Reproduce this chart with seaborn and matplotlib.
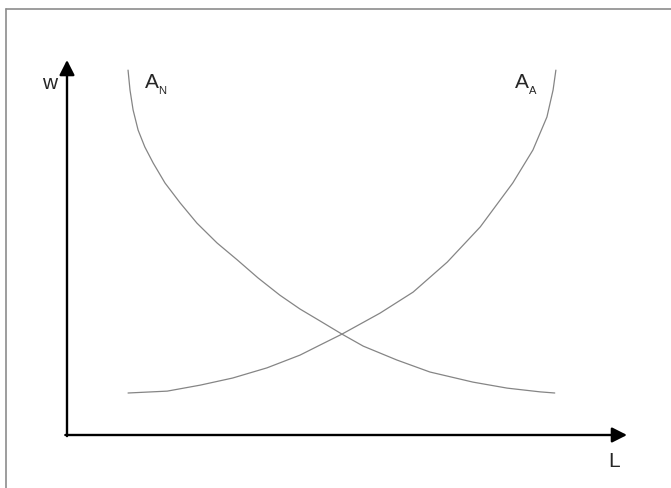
import numpy as np
import pandas as pd
import seaborn as sns
import matplotlib.pyplot as plt
from matplotlib.lines import Line2D

# curve A_N (falls with L)
an_L = [1.09, 1.125, 1.18, 1.27, 1.39, 1.54, 1.75, 2.02, 2.32, 2.68, 3.04, 3.41, 3.80,
        4.16, 4.52, 4.91, 5.29, 5.89, 6.48, 7.25, 7.86, 8.45, 8.71]
an_w = [9.73, 9.20, 8.67, 8.13, 7.68, 7.25, 6.72, 6.19, 5.65, 5.12, 4.67, 4.19, 3.73,
        3.36, 3.04, 2.69, 2.37, 2.00, 1.68, 1.41, 1.25, 1.15, 1.12]

# curve A_A (rises with L)
aa_L = [1.09, 1.79, 2.38, 2.96, 3.57, 4.16, 4.52, 4.91, 5.59, 6.18, 6.79, 7.38,
        7.96, 8.32, 8.57, 8.68, 8.73]
aa_w = [1.12, 1.17, 1.33, 1.52, 1.79, 2.13, 2.40, 2.69, 3.25, 3.81, 4.61, 5.55,
        6.72, 7.60, 8.48, 9.20, 9.73]

curve_names = ['A', 'A']
curve_subs = ['N', 'A']
axis_labels = ['w', 'L']

sns.set_style('white')
plt.rcParams['font.family'] = ['Liberation Sans', 'DejaVu Sans']

df_n = pd.DataFrame({'L': an_L, 'w': an_w})
df_a = pd.DataFrame({'L': aa_L, 'w': aa_w})

fig = plt.figure(figsize=(6.71, 4.88), dpi=100)
ax = fig.add_axes([67/671, 53/488, 560/671, 375/488])

sns.lineplot(data=df_n, x='L', y='w', sort=False, estimator=None, color='#858585', lw=0.9, ax=ax)
sns.lineplot(data=df_a, x='L', y='w', sort=False, estimator=None, color='#858585', lw=0.9, ax=ax)

ax.set_xlim(0, 10)
ax.set_ylim(0, 10)
ax.set_xticks([])
ax.set_yticks([])
ax.set_xlabel('')
ax.set_ylabel('')
sns.despine(ax=ax, left=True, bottom=True)

# axes with arrow heads
arrow = dict(arrowstyle='-|>,head_length=0.75,head_width=0.38', lw=1.7, color='black',
             shrinkA=0, shrinkB=0, mutation_scale=12)
ax.annotate('', xy=(10, 0), xytext=(-0.03, 0), arrowprops=arrow, annotation_clip=False)
ax.annotate('', xy=(0, 10), xytext=(0, -0.03), arrowprops=arrow, annotation_clip=False)

# curve labels: letter plus a small lowered subscript
ax.text(1.39, 9.25, curve_names[0], fontsize=15, ha='left', va='baseline')
ax.text(1.625, 9.09, curve_subs[0], fontsize=8, ha='left', va='baseline')
ax.text(8.0, 9.25, curve_names[1], fontsize=15, ha='left', va='baseline')
ax.text(8.25, 9.09, curve_subs[1], fontsize=8, ha='left', va='baseline')

ax.text(-0.45, 9.23, axis_labels[0], fontsize=15, ha='left', va='baseline', clip_on=False)
ax.text(9.66, -0.85, axis_labels[1], fontsize=15, ha='left', va='baseline', clip_on=False)

# frame round the picture (top and left edges only)
fig.add_artist(Line2D([6/671, 1], [1 - 9/488, 1 - 9/488], color='#8c8c8c', lw=1.2))
fig.add_artist(Line2D([6/671, 6/671], [0, 1 - 9/488], color='#8c8c8c', lw=1.2))

fig.savefig('out.png', dpi=100)
